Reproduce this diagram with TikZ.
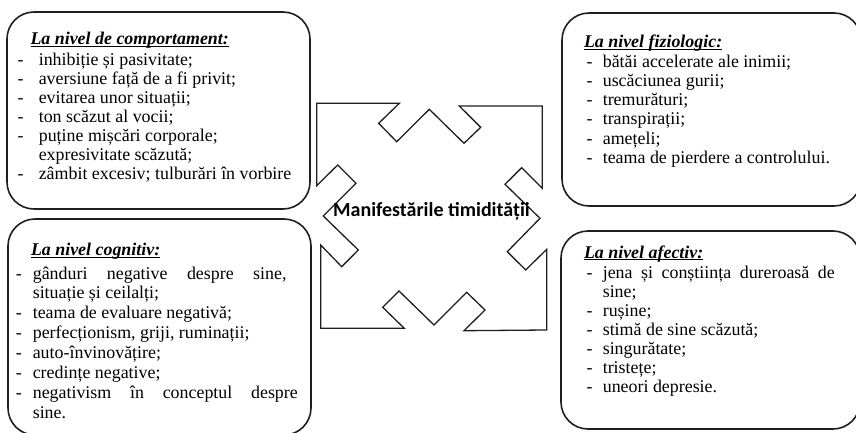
\documentclass[tikz,border=0pt]{standalone}
\usepackage{fontspec}
\setmainfont{Liberation Serif}
\newfontfamily\calibrifont{Carlito}
\newcommand{\myttl}[1]{\setbox0\hbox{\bfseries\itshape #1}\rlap{\rule[-2.2pt]{\wd0}{1pt}}\box0}
\begin{document}
\begin{tikzpicture}[x=1pt,y=-1pt,
  box/.style={draw=black!88, line width=1.6pt, rounded corners=27pt},
  ln/.style={anchor=base west, inner sep=0pt, outer sep=0pt, font=\fontsize{17.9}{19}\selectfont},
  shp/.style={draw=black!88, line width=1.3pt, line join=miter},
  ctr/.style={anchor=base, inner sep=0pt, font=\calibrifont\bfseries\fontsize{20}{24}\selectfont}
  ]
\useasboundingbox (0,0) rectangle (856,433);
\clip (0,0) rectangle (856,433);
% boxes
\draw[box] (7,12) rectangle (310,209);
\draw[box] (8,219) rectangle (311,435);
\draw[box] (562,13) rectangle (861,206);
\draw[box] (561,231) rectangle (860,429);
% central shape
\draw[shp] (316.7,103.3) -- (399.3,103.3) -- (378.7,123.3) -- (396.7,141.7) -- (429.3,109.3)
  -- (464,143.3) -- (480.7,127.3) -- (459.3,106) -- (542.3,106)
  -- (542.3,188.3) -- (521.7,167.7) -- (505,184.3) -- (540,218.3) -- (507.3,251.7)
  -- (525.7,270) -- (546.7,249.3) -- (546.7,330)
  -- (464,330.7) -- (485,310) -- (466.7,292.3) -- (434,325) -- (399,291)
  -- (382.7,307.3) -- (404.3,328.3) -- (320.7,328.3)
  -- (320.7,245) -- (341.7,266.7) -- (358.3,250) -- (323.3,216) -- (356,183.3)
  -- (337.7,165) -- (316.7,185.7) -- cycle;
\node[ctr] (center) at (431.5,216) {Manifestările timidității};
% top left
\node[ln] (tlt) at (30.5,44.5) {\myttl{La nivel de comportament:}};
\node[ln] (tld0) at (17.6,65.7) {-};
\node[ln] (tl0) at (38.8,65.7) {inhibiție și pasivitate;};
\node[ln] (tld1) at (17.6,84.6) {-};
\node[ln] (tl1) at (38.8,84.6) {aversiune față de a fi privit;};
\node[ln] (tld2) at (17.6,103.5) {-};
\node[ln] (tl2) at (38.8,103.5) {evitarea unor situații;};
\node[ln] (tld3) at (17.6,122.4) {-};
\node[ln] (tl3) at (38.8,122.4) {ton scăzut al vocii;};
\node[ln] (tld4) at (17.6,141.3) {-};
\node[ln] (tl4) at (38.8,141.3) {puține mișcări corporale;};
\node[ln] (tl5) at (38.8,160.2) {expresivitate scăzută;};
\node[ln] (tld6) at (17.6,179.1) {-};
\node[ln] (tl6) at (38.8,179.1) {zâmbit excesiv; tulburări în vorbire};
% bottom left
\node[ln] (blt) at (31,255.5) {\myttl{La nivel cognitiv:}};
\node[ln] (bld0) at (16,279) {-};
\node[ln] (bl0) at (32.8,279) {\makebox[253.7pt][s]{gânduri negative despre sine,}};
\node[ln] (bl1) at (32.8,298.9) {situație și ceilalți;};
\node[ln] (bld2) at (16,318.7) {-};
\node[ln] (bl2) at (32.8,318.7) {teama de evaluare negativă;};
\node[ln] (bld3) at (16,338.6) {-};
\node[ln] (bl3) at (32.8,338.6) {perfecționism, griji, ruminații;};
\node[ln] (bld4) at (16,358.4) {-};
\node[ln] (bl4) at (32.8,358.4) {auto-învinovățire;};
\node[ln] (bld5) at (16,378.3) {-};
\node[ln] (bl5) at (32.8,378.3) {credințe negative;};
\node[ln] (bld6) at (16,398.1) {-};
\node[ln] (bl6) at (32.8,398.1) {\makebox[265pt][s]{negativism în conceptul despre}};
\node[ln] (bl7) at (32.8,418) {sine.};
% top right
\node[ln] (trt) at (584,48) {\myttl{La nivel fiziologic:}};
\node[ln] (trd0) at (586.6,67.3) {-};
\node[ln] (tr0) at (602.8,67.3) {bătăi accelerate ale inimii;};
\node[ln] (trd1) at (586.6,86.5) {-};
\node[ln] (tr1) at (602.8,86.5) {uscăciunea gurii;};
\node[ln] (trd2) at (586.6,105.7) {-};
\node[ln] (tr2) at (602.8,105.7) {tremurături;};
\node[ln] (trd3) at (586.6,124.9) {-};
\node[ln] (tr3) at (602.8,124.9) {transpirații;};
\node[ln] (trd4) at (586.6,144.1) {-};
\node[ln] (tr4) at (602.8,144.1) {amețeli;};
\node[ln] (trd5) at (586.6,163.3) {-};
\node[ln] (tr5) at (602.8,163.3) {teama de pierdere a controlului.};
% bottom right
\node[ln] (brt) at (584,258) {\myttl{La nivel afectiv:}};
\node[ln] (brd0) at (586.6,278) {-};
\node[ln] (br0) at (602.8,278) {\makebox[232pt][s]{jena și conștiința dureroasă de}};
\node[ln] (br1) at (602.8,297.1) {sine;};
\node[ln] (brd2) at (586.6,316.2) {-};
\node[ln] (br2) at (602.8,316.2) {rușine;};
\node[ln] (brd3) at (586.6,335.3) {-};
\node[ln] (br3) at (602.8,335.3) {stimă de sine scăzută;};
\node[ln] (brd4) at (586.6,354.4) {-};
\node[ln] (br4) at (602.8,354.4) {singurătate;};
\node[ln] (brd5) at (586.6,373.5) {-};
\node[ln] (br5) at (602.8,373.5) {tristețe;};
\node[ln] (brd6) at (586.6,392.6) {-};
\node[ln] (br6) at (602.8,392.6) {uneori depresie.};
\end{tikzpicture}
\end{document}
